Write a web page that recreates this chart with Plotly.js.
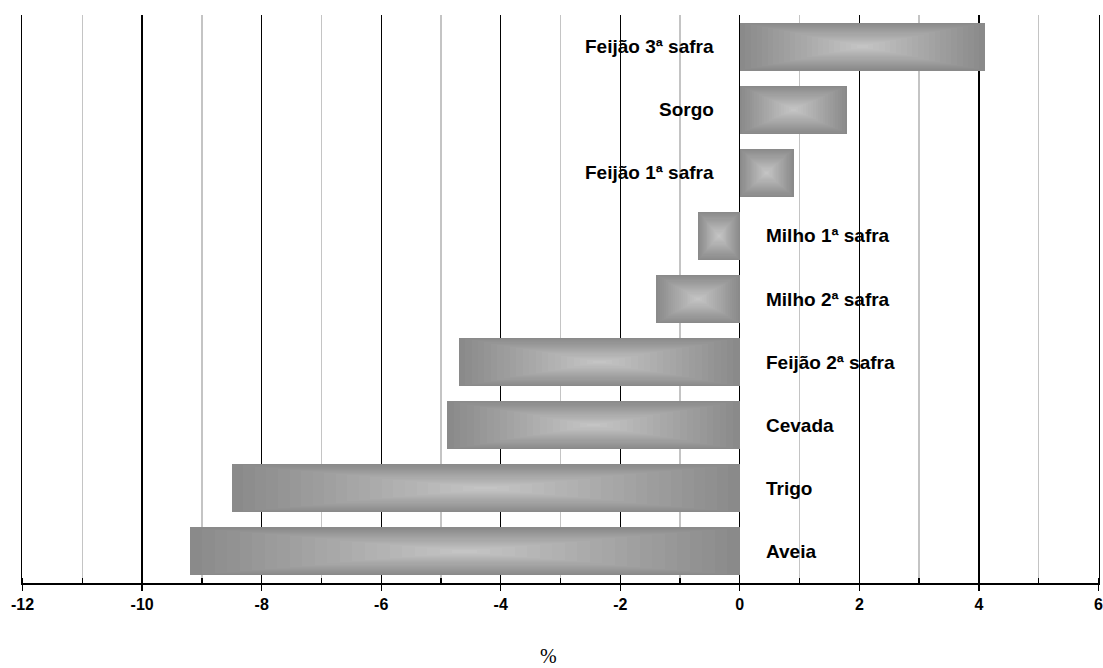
<!DOCTYPE html>
<html>
<head>
<meta charset="utf-8">
<script src="https://cdn.plot.ly/plotly-3.0.1.min.js"></script>
<style>
  html, body { margin: 0; padding: 0; background: #ffffff; }
  #chart { width: 1103px; height: 668px; }
</style>
</head>
<body>
<div id="chart"></div>
<script>
// Categories listed top to bottom, as in the chart
const categories = [
  "Feijão 3ª safra",
  "Sorgo",
  "Feijão 1ª safra",
  "Milho 1ª safra",
  "Milho 2ª safra",
  "Feijão 2ª safra",
  "Cevada",
  "Trigo",
  "Aveia"
];
// Variation (%)
const values = [4.1, 1.8, 0.9, -0.7, -1.4, -4.7, -4.9, -8.5, -9.2];

const xTickValues = [-12, -10, -8, -6, -4, -2, 0, 2, 4, 6];
const xTickLabels = ["-12", "-10", "-8", "-6", "-4", "-2", "0", "2", "4", "6"];

// Styling: simulate Excel's "from centre" rectangular gradient by stacking
// concentric bars (each drawn through Plotly's own axes from the data values).
const BAR_WIDTH = 0.76;
const LAYERS = 22;
const EDGE = 138, CENTER = 196;

const traces = [];
for (let i = 0; i < LAYERS; i++) {
  const t = i / LAYERS;               // shrink fraction
  const g = Math.round(EDGE + (CENTER - EDGE) * (i / (LAYERS - 1)));
  traces.push({
    type: "bar",
    orientation: "h",
    y: categories,
    x: values.map(v => v * (1 - t)),
    base: values.map(v => v * t / 2),
    width: BAR_WIDTH * (1 - t),
    marker: { color: `rgb(${g},${g},${g})`, line: { width: 0 } },
    hoverinfo: "skip",
    showlegend: false
  });
}

const annotations = categories.map((c, i) => ({
  x: 0,
  y: c,
  xref: "x",
  yref: "y",
  text: c,
  showarrow: false,
  xanchor: values[i] >= 0 ? "right" : "left",
  xshift: values[i] >= 0 ? -24 : 24,
  font: { family: "Liberation Sans, Arial, sans-serif", size: 19, color: "#000", weight: "bold" }
}));

annotations.push({
  x: 0.489, y: -0.129, xref: "paper", yref: "paper",
  text: "%", showarrow: false, xanchor: "center", yanchor: "middle",
  font: { family: "Liberation Serif, Times New Roman, serif", size: 20, color: "#000" }
});

const layout = {
  width: 1103,
  height: 668,
  margin: { l: 22, r: 4, t: 15, b: 85 },
  paper_bgcolor: "#ffffff",
  plot_bgcolor: "#ffffff",
  barmode: "overlay",
  bargap: 0,
  showlegend: false,
  hovermode: false,
  xaxis: {
    range: [-12.01, 6.01],
    tickmode: "array",
    tickvals: xTickValues,
    ticktext: xTickLabels,
    showgrid: true,
    gridcolor: "#000000",
    gridwidth: 1.3,
    zeroline: false,
    showline: true,
    linecolor: "#000000",
    linewidth: 2,
    ticks: "outside",
    ticklen: 6,
    tickwidth: 1.3,
    tickcolor: "#000000",
    tickfont: { family: "Liberation Sans, Arial, sans-serif", size: 16, color: "#000", weight: "bold" },
    minor: {
      dtick: 1,
      tick0: 0,
      showgrid: true,
      gridcolor: "#c4c4c4",
      gridwidth: 1.3,
      ticks: "inside",
      ticklen: 5,
      tickwidth: 1.3,
      tickcolor: "#000000"
    },
    fixedrange: true
  },
  yaxis: {
    type: "category",
    categoryorder: "array",
    categoryarray: categories,
    range: [8.5, -0.5],
    showgrid: false,
    zeroline: false,
    showline: true,
    mirror: true,
    linecolor: "#000000",
    linewidth: 1.3,
    showticklabels: false,
    ticks: "",
    fixedrange: true
  },
  annotations: annotations
};

Plotly.newPlot("chart", traces, layout, { displayModeBar: false, staticPlot: true });
</script>
</body>
</html>
